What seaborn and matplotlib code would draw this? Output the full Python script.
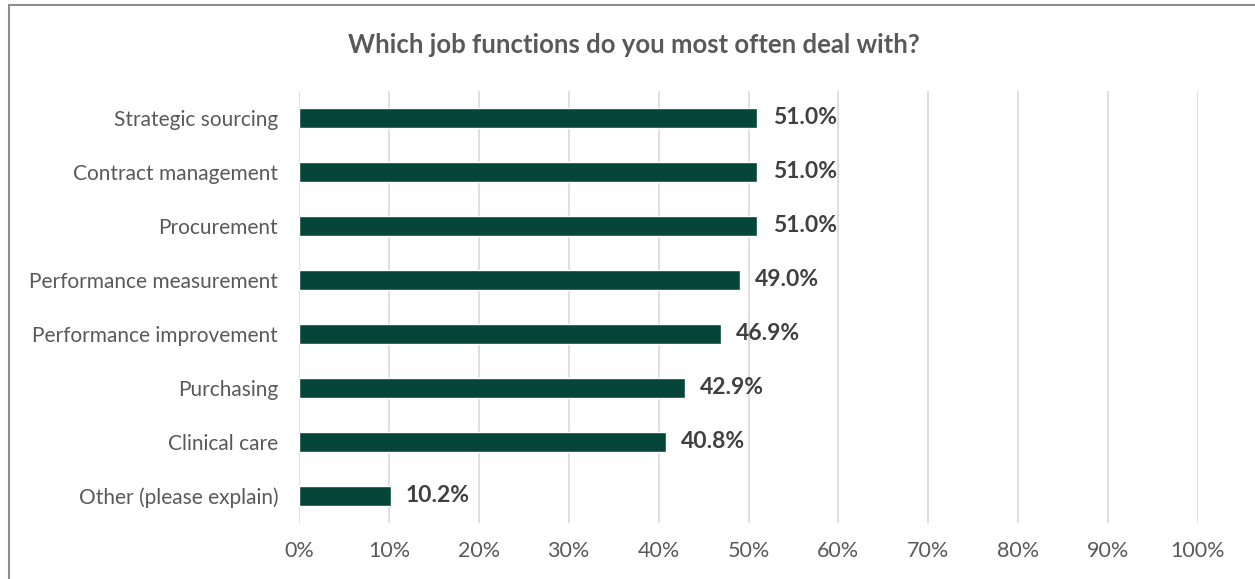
import matplotlib
matplotlib.use("Agg")
import matplotlib.pyplot as plt
import seaborn as sns
import pandas as pd
from matplotlib.patches import Rectangle
from matplotlib.ticker import FuncFormatter

categories = ["Strategic sourcing", "Contract management", "Procurement",
              "Performance measurement", "Performance improvement", "Purchasing",
              "Clinical care", "Other (please explain)"]
values = [51.0, 51.0, 51.0, 49.0, 46.9, 42.9, 40.8, 10.2]
x_ticks = [0, 10, 20, 30, 40, 50, 60, 70, 80, 90, 100]
title = "Which job functions do you most often deal with?"

df = pd.DataFrame({"category": categories, "value": values})

sns.set_theme(style="white")
plt.rcParams['font.family'] = ['Lato', 'DejaVu Sans']

W, H = 1255, 579
fig = plt.figure(figsize=(W / 100, H / 100), dpi=100)
ax = fig.add_axes([299 / W, 1 - 523 / H, (1198 - 299) / W, (523 - 91) / H])

sns.barplot(data=df, y="category", x="value", orient="h", color="#064539",
            width=0.37, ax=ax, saturation=1)

ax.set_xlim(0, 100)
ax.set_xticks(x_ticks)
ax.xaxis.set_major_formatter(FuncFormatter(lambda v, p: f"{v:.0f}%"))
ax.grid(axis="x", color="#d9d9d9", linewidth=1.2)
ax.set_axisbelow(True)
for s in ax.spines.values():
    s.set_visible(False)
ax.set_xlabel("")
ax.set_ylabel("")
ax.tick_params(axis="both", length=0, colors="#595959")
ax.tick_params(axis="x", pad=13, labelsize=15.5)
ax.tick_params(axis="y", pad=15, labelsize=15)

for i, v in enumerate(values):
    ax.annotate(f"{v:.1f}%", xy=(v, i), xytext=(11, 0), textcoords="offset points",
                va="center", ha="left", fontsize=16.5, fontweight="bold", color="#404040")

fig.text(634 / W, 1 - 45 / H, title, ha="center", va="center", fontsize=18.5,
         fontweight="bold", color="#595959")

fig.patches.append(Rectangle((9 / W, -0.05), 1.1, 1 - 5 / H + 0.05,
                             transform=fig.transFigure, fill=False,
                             edgecolor="#8c8c8c", linewidth=1.5))

fig.savefig("out.png", dpi=100, facecolor="white")
